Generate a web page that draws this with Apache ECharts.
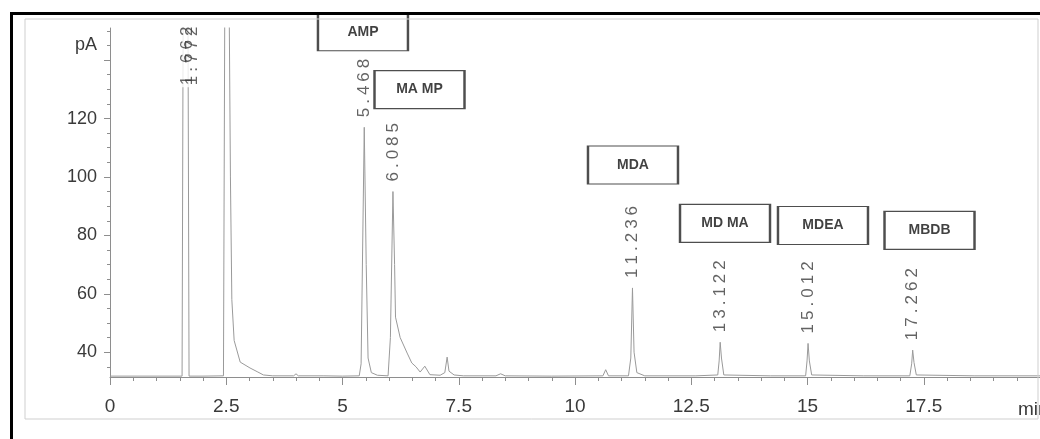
<!DOCTYPE html>
<html>
<head>
<meta charset="utf-8">
<script src="https://cdn.jsdelivr.net/npm/echarts@6/dist/echarts.min.js"></script>
<style>
html,body{margin:0;padding:0;background:#fff;}
#chart{width:1040px;height:439px;}
</style>
</head>
<body>
<div id="chart"></div>
<script>
// ---- data ----
// retention time (min)
const times = [
  0, 1.55, 1.575, 1.675, 1.70, 2.0,
  2.44, 2.47, 2.56, 2.59, 2.62, 2.67, 2.80, 3.01, 3.18, 3.30, 3.50,
  3.95, 4.00, 4.05, 4.60, 5.00, 5.36, 5.40, 5.468, 5.51, 5.55, 5.62, 5.75,
  5.98, 6.03, 6.085, 6.12, 6.14, 6.24, 6.39, 6.49, 6.58, 6.67, 6.77, 6.88,
  7.10, 7.20, 7.25, 7.29, 7.40, 7.60, 8.30, 8.40, 8.50, 9.50,
  10.60, 10.66, 10.72, 11.15, 11.20, 11.236, 11.27, 11.33, 11.50,
  12.60, 13.07, 13.10, 13.122, 13.15, 13.20, 14.20,
  14.96, 14.99, 15.012, 15.04, 15.09, 16.20,
  17.20, 17.24, 17.262, 17.29, 17.34, 18.60, 20
];
// detector signal (pA)
const signal = [
  31.8, 31.8, 165, 165, 31.8, 31.8,
  31.9, 165, 165, 100, 58, 44, 36.6, 34.6, 33.2, 32.2, 31.9,
  31.9, 32.6, 31.9, 31.9, 31.8, 31.9, 36, 117, 70, 38, 33, 32.1,
  31.9, 45, 95, 70, 52, 45, 39.7, 36.3, 35, 33.2, 35.2, 32.3,
  32.1, 33, 38.3, 33.5, 32.2, 31.9, 31.9, 32.6, 31.9, 31.8,
  31.9, 34, 31.9, 31.9, 38, 62, 40, 33, 31.9,
  31.9, 32.2, 37, 43.4, 38, 32.2, 31.9,
  31.9, 37, 43, 37, 32.2, 31.9,
  31.9, 36, 40.7, 36.5, 32.2, 31.9, 31.9
];
// labelled peaks: retention time label and apex height (off-scale peaks capped at label base)
const peakNames   = ['1.662', '1.772', '5.468', '6.085', '11.236', '13.122', '15.012', '17.262'];
const peakTimes   = [1.662, 1.772, 5.468, 6.085, 11.236, 13.122, 15.012, 17.262];
const peakHeights = [128, 128, 117, 95, 62, 43.4, 43, 40.7];
// compound annotation boxes: name and anchor (time, pA)
const compoundNames = ['AMP', 'MA MP', 'MDA', 'MD MA', 'MDEA', 'MBDB'];
const compoundTimes = [5.44, 6.656, 11.247, 13.226, 15.333, 17.624];
const compoundLevels = [149.7, 129.9, 104.1, 84.1, 83.4, 81.7];
// axis ticks
const xTickLabels = ['0', '2.5', '5', '7.5', '10', '12.5', '15', '17.5'];
const yLabelValues = [40, 60, 80, 100, 120];
const yMajorTicks = [40, 60, 80, 100, 120, 140];
const yMinorTicks = [35, 45, 50, 55, 65, 70, 75, 85, 90, 95, 105, 110, 115, 125, 130, 135, 145, 150];

// ---- chart ----
const chart = echarts.init(document.getElementById('chart'), null, {renderer: 'canvas'});
const axisGrey = '#8e8e8e';
const narrow = "'Liberation Sans Narrow', 'Liberation Sans', Arial, sans-serif";

const line = times.map((t, i) => [t, signal[i]]);
const peaks = peakTimes.map((t, i) => {
  const d = {name: peakNames[i], value: [t, peakHeights[i]]};
  if (i === 0) d.label = {backgroundColor: '#fff'};
  return d;
});
const boxes = compoundTimes.map((t, i) => ({name: compoundNames[i], value: [t, compoundLevels[i]]}));

const option = {
  animation: false,
  backgroundColor: '#fff',
  grid: {left: 110, right: 0, top: 28, bottom: 62, outerBoundsMode: 'none', containLabel: false},
  xAxis: {
    type: 'value', min: 0, max: 20, interval: 2.5,
    axisLine: {show: true, lineStyle: {color: axisGrey, width: 1}},
    axisTick: {show: true, length: 8, lineStyle: {color: axisGrey}},
    minorTick: {show: true, splitNumber: 5, length: 4, lineStyle: {color: axisGrey}},
    splitLine: {show: false},
    axisLabel: {
      margin: 20, color: '#3a3a3a', fontSize: 19, fontFamily: narrow,
      formatter: v => { const i = Math.round(v / 2.5); return i < xTickLabels.length ? xTickLabels[i] : ''; }
    },
    name: 'min', nameLocation: 'end', nameGap: -22,
    nameTextStyle: {color: '#3a3a3a', fontSize: 19, fontFamily: narrow, align: 'left', verticalAlign: 'top', padding: [23, 0, 0, 0]}
  },
  yAxis: [{
    type: 'value', min: 31.5, max: 151,
    axisLine: {show: true, lineStyle: {color: axisGrey, width: 1}},
    axisTick: {show: true, length: 6, customValues: yMajorTicks, lineStyle: {color: axisGrey}},
    splitLine: {show: false},
    axisLabel: {margin: 13, color: '#3a3a3a', fontSize: 18, fontFamily: narrow, customValues: yLabelValues},
    name: 'pA', nameLocation: 'end', nameGap: -17,
    nameTextStyle: {color: '#3a3a3a', fontSize: 18, fontFamily: narrow, align: 'right', verticalAlign: 'middle', padding: [0, 13, 0, 0]}
  }, {
    type: 'value', min: 31.5, max: 151, position: 'left',
    axisLine: {show: false},
    axisTick: {show: true, length: 3, customValues: yMinorTicks, lineStyle: {color: axisGrey}},
    axisLabel: {show: false},
    splitLine: {show: false}
  }],
  series: [{
    type: 'line', data: line, showSymbol: false, symbol: 'none',
    lineStyle: {color: '#9a9a9a', width: 1}, z: 2
  }, {
    type: 'scatter', data: peaks, symbolSize: 0, clip: false, z: 5,
    label: {
      show: true, position: 'top', distance: 8, rotate: 90,
      align: 'left', verticalAlign: 'middle',
      formatter: p => p.name.split('').map(c => '{c|' + c + '}').join(''),
      rich: {c: {fontSize: 17, fontFamily: "'Liberation Sans', Arial, sans-serif", color: '#3c3c3c', padding: [0, 2, 0, 2]}}
    }
  }, {
    type: 'scatter', data: boxes, symbol: 'rect', symbolSize: [90, 38], clip: false, z: 6,
    itemStyle: {color: '#fff', borderColor: '#222', borderWidth: 1.6},
    label: {show: true, position: 'inside', formatter: '{b}', color: '#111', fontSize: 14, fontWeight: 'bold', fontFamily: "'Liberation Sans', Arial, sans-serif"}
  }],
  graphic: [
    {type: 'rect', z: 100, shape: {x: 25, y: 19, width: 1013, height: 400}, style: {fill: 'none', stroke: '#cfcfcf', lineWidth: 1}},
    {type: 'rect', z: 101, shape: {x: 10, y: 12, width: 1030, height: 3}, style: {fill: '#000'}},
    {type: 'rect', z: 101, shape: {x: 10, y: 12, width: 3, height: 427}, style: {fill: '#000'}}
  ]
};
chart.setOption(option);
</script>
</body>
</html>
